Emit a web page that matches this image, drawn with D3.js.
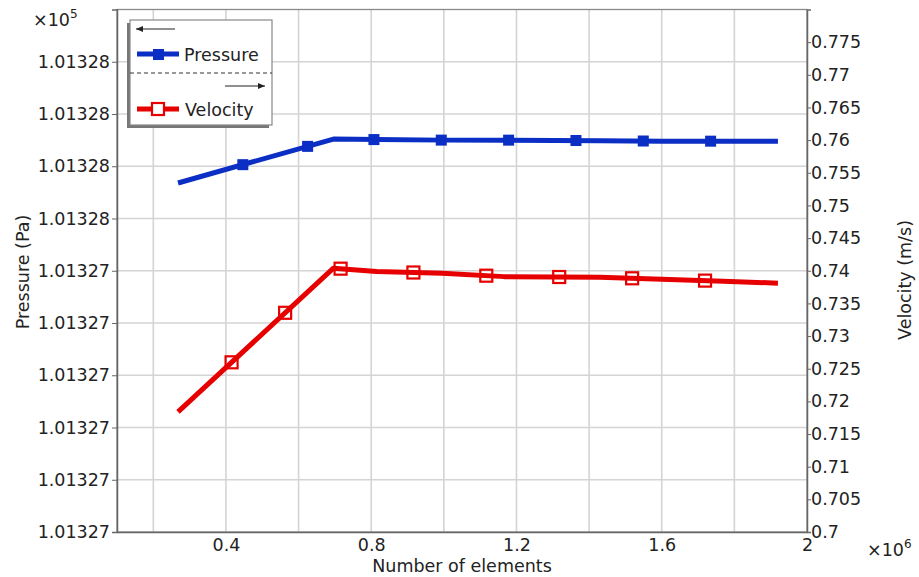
<!DOCTYPE html>
<html><head><meta charset="utf-8">
<script src="https://cdn.jsdelivr.net/npm/d3@7/dist/d3.min.js"></script>
<style>body{margin:0;background:#fff}svg{display:block}text{font-family:'DejaVu Sans',sans-serif;fill:#222}</style>
</head><body><svg id="c" width="919" height="577"></svg>
<script>
// ---- data ----
const elements = [268000, 696000, 815000, 995000, 1166000, 1430000, 1600000, 1770000, 1920000];
const pressure = [101327.568, 101327.652, 101327.651, 101327.650, 101327.650, 101327.649, 101327.648, 101327.648, 101327.648];
const velocity = [0.7184, 0.7404, 0.7399, 0.7396, 0.7391, 0.7390, 0.7387, 0.7384, 0.7381];
const xTicks = [400000, 800000, 1200000, 1600000, 2000000];
const xTickLabels = ["0.4", "0.8", "1.2", "1.6", "2"];
const xGrid = [200000, 400000, 600000, 800000, 1000000, 1200000, 1400000, 1600000, 1800000];
const pTicks = [101326.9, 101327.0, 101327.1, 101327.2, 101327.3, 101327.4, 101327.5, 101327.6, 101327.7, 101327.8];
const pTickLabels = ["1.01327", "1.01327", "1.01327", "1.01327", "1.01327", "1.01327", "1.01328", "1.01328", "1.01328", "1.01328"];
const vTicks = [0.7, 0.705, 0.71, 0.715, 0.72, 0.725, 0.73, 0.735, 0.74, 0.745, 0.75, 0.755, 0.76, 0.765, 0.77, 0.775];
const vTickLabels = ["0.7", "0.705", "0.71", "0.715", "0.72", "0.725", "0.73", "0.735", "0.74", "0.745", "0.75", "0.755", "0.76", "0.765", "0.77", "0.775"];

const L = 117, R = 807, T = 9.5, B = 532;
const svg = d3.select("#c");
const x = d3.scaleLinear().domain([100000, 2000000]).range([L, R]);
const yP = d3.scaleLinear().domain([101326.9, 101327.9]).range([B, T]);
const yV = d3.scaleLinear().domain([0.7, 0.78]).range([B, T]);
const BLUE = "#0b2ec4", RED = "#e60000", FS = 17.5;

// grid
const g = svg.append("g");
g.selectAll(".vg").data(xGrid).join("line").attr("x1", d => x(d)).attr("x2", d => x(d))
  .attr("y1", T).attr("y2", B).attr("stroke", "#d4d4d4").attr("stroke-width", 1.6);
g.selectAll(".hg").data(pTicks.slice(1)).join("line").attr("y1", d => yP(d)).attr("y2", d => yP(d))
  .attr("x1", L).attr("x2", R).attr("stroke", "#d4d4d4").attr("stroke-width", 1.6);

// frame
svg.append("rect").attr("x", L).attr("y", T).attr("width", R - L).attr("height", B - T)
  .attr("fill", "none").attr("stroke", "#8a8a8a").attr("stroke-width", 1.3);

// axes
const axL = d3.axisLeft(yP).tickValues(pTicks).tickFormat((d, i) => pTickLabels[i]).tickSize(5).tickPadding(2);
const axR = d3.axisRight(yV).tickValues(vTicks).tickFormat((d, i) => vTickLabels[i]).tickSize(4).tickPadding(0);
const axB = d3.axisBottom(x).tickValues(xTicks).tickFormat((d, i) => xTickLabels[i]).tickSize(0).tickPadding(7);
function style(sel) {
  sel.select(".domain").attr("stroke", "#666").attr("stroke-width", 1.5);
  sel.selectAll(".tick line").attr("stroke", "#666");
  sel.selectAll(".tick text").attr("font-size", FS).attr("fill", "#222").attr("font-family", "'DejaVu Sans',sans-serif");
}
svg.append("g").attr("transform", `translate(${L},0)`).call(axL).call(style);
svg.append("g").attr("transform", `translate(${R},0)`).call(axR).call(style);
svg.append("g").attr("transform", `translate(0,${B})`).call(axB).call(style);

// axis titles
svg.append("text").attr("transform", "translate(29,272) rotate(-90)").attr("text-anchor", "middle")
  .attr("font-size", FS).text("Pressure (Pa)");
svg.append("text").attr("transform", "translate(911,280) rotate(-90)").attr("text-anchor", "middle")
  .attr("font-size", FS).text("Velocity (m/s)");
svg.append("text").attr("x", 462).attr("y", 572).attr("text-anchor", "middle").attr("font-size", FS).text("Number of elements");
const e5 = svg.append("text").attr("x", 33).attr("y", 26).attr("font-size", FS);
e5.append("tspan").text("×10");
e5.append("tspan").attr("dy", -8).attr("font-size", 12).text("5");
const e6 = svg.append("text").attr("x", 867).attr("y", 556).attr("font-size", FS);
e6.append("tspan").text("×10");
e6.append("tspan").attr("dy", -8).attr("font-size", 12).text("6");

// lines
const pData = elements.map((e, i) => [e, pressure[i]]);
const vData = elements.map((e, i) => [e, velocity[i]]);
const pPath = svg.append("path").datum(pData).attr("fill", "none").attr("stroke", BLUE).attr("stroke-width", 5)
  .attr("stroke-linejoin", "round").attr("d", d3.line().x(d => x(d[0])).y(d => yP(d[1])));
const vPath = svg.append("path").datum(vData).attr("fill", "none").attr("stroke", RED).attr("stroke-width", 5)
  .attr("stroke-linejoin", "round").attr("d", d3.line().x(d => x(d[0])).y(d => yV(d[1])));

// markers evenly spaced along arc length
function markerPts(path, n) {
  const node = path.node(), len = node.getTotalLength(), pts = [];
  for (let k = 1; k < n; k++) { const p = node.getPointAtLength(len * k / n); pts.push([p.x, p.y]); }
  return pts;
}
svg.selectAll(".pm").data(markerPts(pPath, 9)).join("rect")
  .attr("x", d => d[0] - 5.5).attr("y", d => d[1] - 5.5).attr("width", 11).attr("height", 11).attr("fill", BLUE);
svg.selectAll(".vm").data(markerPts(vPath, 9)).join("rect")
  .attr("x", d => d[0] - 6).attr("y", d => d[1] - 6).attr("width", 12).attr("height", 12)
  .attr("fill", "none").attr("stroke", RED).attr("stroke-width", 2.2);

// legend
const lg = svg.append("g");
lg.append("rect").attr("x", 127).attr("y", 23).attr("width", 142).attr("height", 105).attr("fill", "#777");
lg.append("rect").attr("x", 130).attr("y", 20).attr("width", 142).attr("height", 105).attr("fill", "#fff")
  .attr("stroke", "#888").attr("stroke-width", 1.2);
function arrow(x1, x2, y) {
  lg.append("line").attr("x1", x1).attr("x2", x2).attr("y1", y).attr("y2", y).attr("stroke", "#222").attr("stroke-width", 1.2);
  const dir = x2 > x1 ? 1 : -1;
  lg.append("path").attr("d", `M${x2},${y} L${x2 - dir * 7},${y - 3} L${x2 - dir * 7},${y + 3} Z`).attr("fill", "#222");
}
arrow(175, 136, 29);
lg.append("line").attr("x1", 137).attr("x2", 179).attr("y1", 54).attr("y2", 54).attr("stroke", BLUE).attr("stroke-width", 5);
lg.append("rect").attr("x", 153).attr("y", 49).attr("width", 11).attr("height", 11).attr("fill", BLUE);
lg.append("text").attr("x", 184).attr("y", 61).attr("font-size", FS).text("Pressure");
lg.append("line").attr("x1", 130).attr("x2", 272).attr("y1", 73).attr("y2", 73).attr("stroke", "#333")
  .attr("stroke-width", 1).attr("stroke-dasharray", "4,3");
arrow(225, 265, 86);
lg.append("line").attr("x1", 137).attr("x2", 179).attr("y1", 109).attr("y2", 109).attr("stroke", RED).attr("stroke-width", 5);
lg.append("rect").attr("x", 152).attr("y", 103).attr("width", 12).attr("height", 12).attr("fill", "#fff")
  .attr("stroke", RED).attr("stroke-width", 2.2);
lg.append("text").attr("x", 185).attr("y", 116).attr("font-size", FS).text("Velocity");
</script></body></html>
